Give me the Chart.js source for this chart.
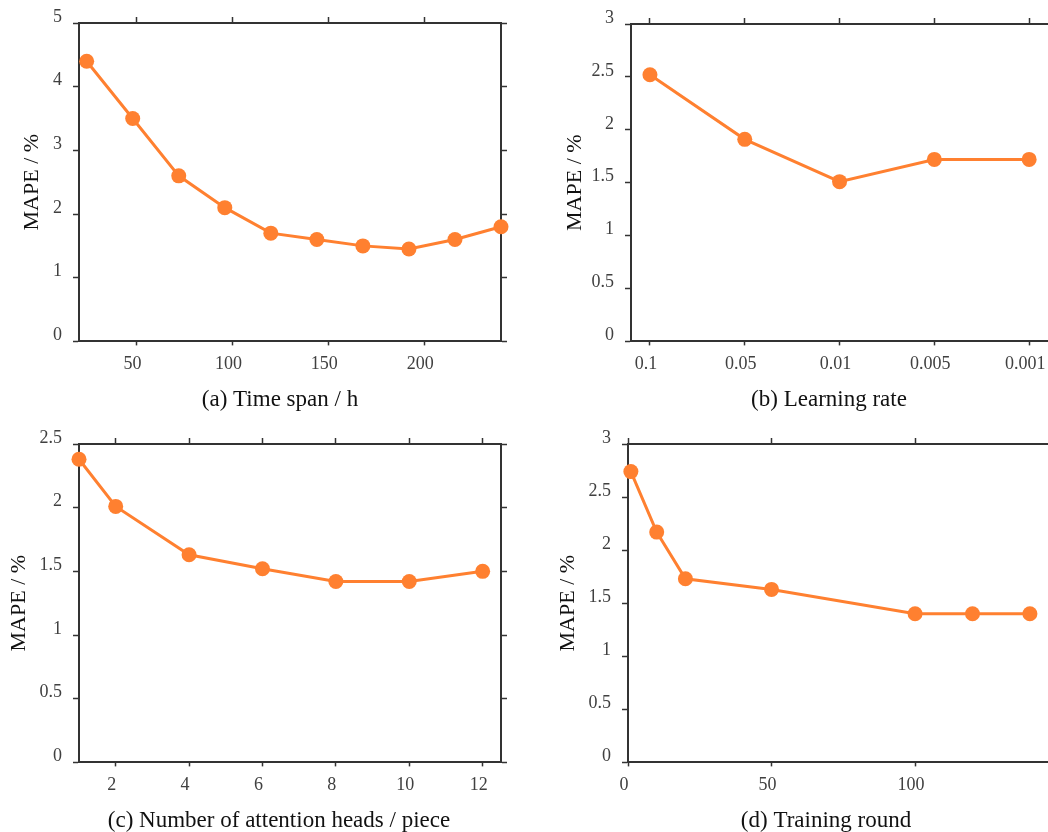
<!DOCTYPE html>
<html>
<head>
<meta charset="utf-8">
<script src="https://cdn.jsdelivr.net/npm/chart.js@4.4.0/dist/chart.umd.min.js"></script>
<style>
  body { margin: 0; width: 1048px; height: 832px; overflow: hidden; position: relative; background: #fff; }
  canvas { position: absolute; }
</style>
</head>
<body>
<canvas id="chartSpan" width="522" height="413" style="left:19px; top:1px;"></canvas>
<canvas id="chartLr" width="534" height="412" style="left:562px; top:2px;"></canvas>
<canvas id="chartHeads" width="546" height="413" style="left:6px; top:422px;"></canvas>
<canvas id="chartRound" width="542" height="413" style="left:555px; top:422px;"></canvas>
<script>
// (a) time span
var spanHours = [24, 48, 72, 96, 120, 144, 168, 192, 216, 240];
var spanMape = [4.4, 3.5, 2.6, 2.1, 1.7, 1.6, 1.5, 1.45, 1.6, 1.8];
var spanTicks = [50, 100, 150, 200];

// (b) learning rate
var lrLabels = ['0.1', '0.05', '0.01', '0.005', '0.001'];
var lrMape = [2.52, 1.91, 1.51, 1.72, 1.72];

// (c) attention heads
var headCounts = [1, 2, 4, 6, 8, 10, 12];
var headMape = [2.38, 2.01, 1.63, 1.52, 1.42, 1.42, 1.50];
var headTicks = [2, 4, 6, 8, 10, 12];

// (d) training round
var rounds = [1, 10, 20, 50, 100, 120, 140];
var roundMape = [2.74, 2.17, 1.73, 1.63, 1.40, 1.40, 1.40];
var roundTicks = [0, 50, 100];

var FONT = "'Liberation Serif', 'Times New Roman', serif";
var ORANGE = '#FF8030';
var AXIS = '#333333';

function axisBase(pos, tickLen, showLabels) {
    return {
        type: 'linear',
        position: pos,
        border: { display: true, color: AXIS, width: 2 },
        grid: { drawOnChartArea: false, drawTicks: true, tickLength: tickLen, tickColor: AXIS, tickWidth: 1.5 },
        ticks: { display: showLabels, color: '#404040', font: { family: FONT, size: 18 } }
    };
}

// build one panel, sizes of the axis boxes are fixed so the plot area lands where it should
function makePanel(id, p) {
    var pts = p.xs.map(function (x, i) { return { x: x, y: p.ys[i] }; });

    var x = axisBase('bottom', 4, true);
    x.min = p.xMin; x.max = p.xMax;
    x.ticks.padding = 8;
    x.ticks.labelOffset = -4;
    x.ticks.maxRotation = 0;
    x.ticks.autoSkip = false;
    x.ticks.callback = p.xLabel || function (v) { return v; };
    x.afterBuildTicks = function (s) { s.ticks = p.xTicks.map(function (v) { return { value: v }; }); };
    x.afterFit = function (s) { s.height = 45; };

    var x2 = axisBase('top', 6, false);
    x2.min = p.xMin; x2.max = p.xMax;
    x2.afterBuildTicks = x.afterBuildTicks;
    x2.afterFit = function (s) { s.height = 22; };

    var y = axisBase('left', 6, true);
    y.min = 0; y.max = p.yMax;
    y.ticks.stepSize = p.yStep;
    y.ticks.padding = 11;
    y.ticks.labelOffset = -6;
    y.ticks.callback = function (v) { return v; };
    y.title = { display: true, text: 'MAPE / %', color: '#111', font: { family: FONT, size: 22 }, padding: 0 };
    y.afterFit = function (s) { s.width = p.yWidth; };

    var y2 = axisBase('right', 6, false);
    y2.min = 0; y2.max = p.yMax;
    y2.ticks.stepSize = p.yStep;
    y2.afterFit = function (s) { s.width = p.rightWidth; };

    var ctx = document.getElementById(id).getContext('2d');
    return new Chart(ctx, {
        type: 'line',
        data: {
            datasets: [{
                data: pts,
                borderColor: ORANGE,
                backgroundColor: ORANGE,
                borderWidth: 3,
                pointRadius: 7.5,
                pointHoverRadius: 7.5,
                pointBorderWidth: 0,
                tension: 0,
                clip: false,
                xAxisID: 'x',
                yAxisID: 'y'
            }]
        },
        options: {
            responsive: false,
            animation: false,
            devicePixelRatio: 1,
            layout: { padding: 0 },
            scales: { x: x, x2: x2, y: y, y2: y2 },
            plugins: {
                legend: { display: false },
                tooltip: { enabled: false },
                title: {
                    display: true,
                    position: 'bottom',
                    text: p.caption,
                    color: '#111',
                    font: { family: FONT, size: 23, weight: 'normal' },
                    padding: 0
                }
            }
        }
    });
}

makePanel('chartSpan', {
    xs: spanHours, ys: spanMape, xTicks: spanTicks,
    xMin: 20, xMax: 240, yMax: 5, yStep: 1,
    yWidth: 60, rightWidth: 40,
    caption: '(a) Time span / h'
});

makePanel('chartLr', {
    xs: lrLabels.map(function (l, i) { return i; }), ys: lrMape,
    xTicks: lrLabels.map(function (l, i) { return i; }),
    xLabel: function (v) { return lrLabels[v]; },
    xMin: -0.2, xMax: 4.22, yMax: 3, yStep: 0.5,
    yWidth: 69, rightWidth: 46,
    caption: '(b) Learning rate'
});

makePanel('chartHeads', {
    xs: headCounts, ys: headMape, xTicks: headTicks,
    xMin: 1, xMax: 12.5, yMax: 2.5, yStep: 0.5,
    yWidth: 73, rightWidth: 51,
    caption: '(c) Number of attention heads / piece'
});

makePanel('chartRound', {
    xs: rounds, ys: roundMape, xTicks: roundTicks,
    xMin: 0, xMax: 147, yMax: 3, yStep: 0.5,
    yWidth: 73, rightWidth: 47,
    caption: '(d) Training round'
});
</script>
</body>
</html>
